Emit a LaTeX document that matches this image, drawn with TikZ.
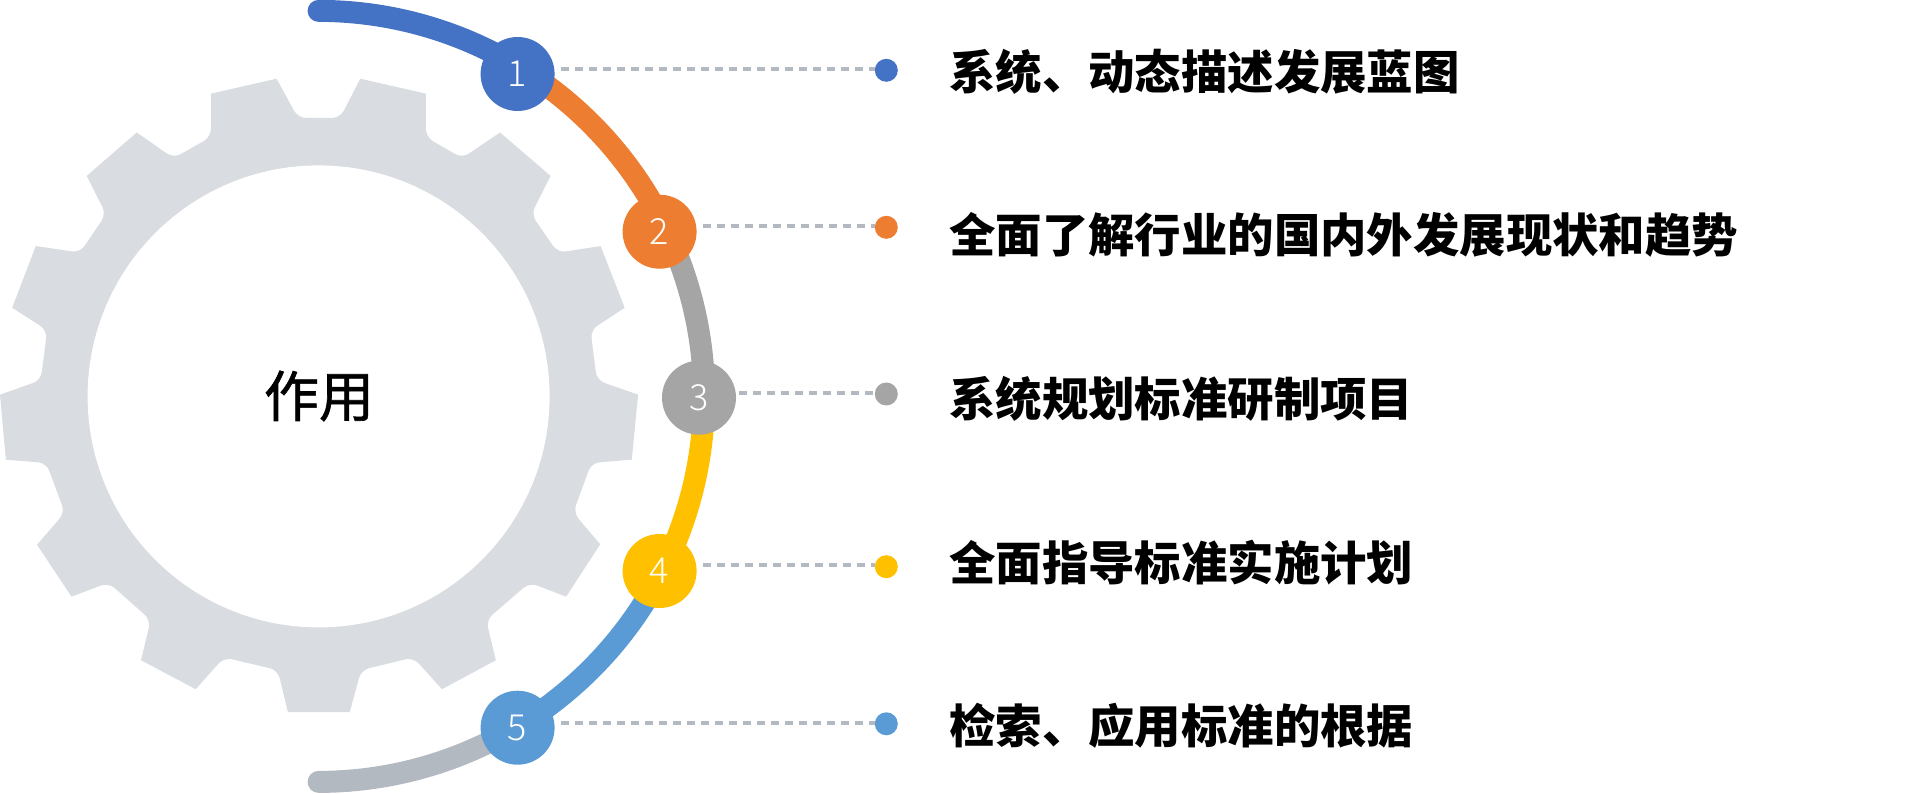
\documentclass[tikz,border=0pt]{standalone}
\usepackage{fontspec}
\setmainfont{Noto Sans CJK SC}
\newfontfamily\titlefont[FakeBold=1.2]{Noto Sans CJK SC}
\newfontfamily\numfont{Noto Sans CJK SC Light}
\usetikzlibrary{calc}
\definecolor{gearc}{HTML}{D9DCE1}
\definecolor{cblue}{HTML}{4472C4}
\definecolor{corange}{HTML}{ED7D31}
\definecolor{cgray}{HTML}{A5A5A5}
\definecolor{cyellow}{HTML}{FFC000}
\definecolor{clight}{HTML}{5B9BD5}
\definecolor{cslate}{HTML}{B2B9C1}
\tikzset{
  seg/.style={line width=22pt,line cap=round},
  segb/.style={line width=22pt},
  num/.style={circle,inner sep=0pt,minimum size=74pt,text=white,font=\numfont\fontsize{36}{36}\selectfont},
  dotn/.style={circle,inner sep=0pt,minimum size=23pt},
  lead/.style={draw=cslate,line width=4pt,dash pattern=on 7.5pt off 6.5pt},
  rowtext/.style={anchor=west,inner sep=0pt,font=\fontsize{46.4}{46.4}\selectfont\bfseries},
}
\begin{document}
\begin{tikzpicture}[x=1pt,y=1pt]
\useasboundingbox (0,0) rectangle (1919,793);
\begin{scope}[x=0.42092pt,y=-0.46747pt,shift={(0,-1568)}]
\fill[gearc]
 (934,56) -- (1012,72) [rounded corners=8pt] -- (1012,165) -- (1098,210) [sharp corners] -- (1188,155)
 -- (1308,248) [rounded corners=8pt] -- (1262,330) -- (1325,412) [sharp corners] -- (1427,398)
 -- (1484,530) [rounded corners=8pt] -- (1403,578) -- (1418,685) [sharp corners] -- (1516,716)
 -- (1501,855) [rounded corners=8pt] -- (1405,862) -- (1362,968) [sharp corners] -- (1426,1036)
 -- (1345,1148) [rounded corners=8pt] -- (1258,1118) -- (1155,1198) [sharp corners] -- (1178,1284)
 -- (1050,1346) [rounded corners=8pt] -- (982,1278) -- (858,1305) [sharp corners] -- (831,1395)
 -- (684,1395) [rounded corners=8pt] -- (660,1305) -- (532,1278) [sharp corners] -- (465,1346)
 -- (335,1284) [rounded corners=8pt] -- (358,1198) -- (258,1118) [sharp corners] -- (170,1148)
 -- (88,1037) [rounded corners=8pt] -- (154,968) -- (110,862) [sharp corners] -- (14,855)
 -- (0,716) [rounded corners=8pt] -- (97,685) -- (112,578) [sharp corners] -- (29,530)
 -- (85,398) [rounded corners=8pt] -- (190,412) -- (252,330) [sharp corners] -- (206,248)
 -- (325,155) [rounded corners=8pt] -- (412,210) -- (501,165) [sharp corners] -- (501,72)
 -- (657,40) [rounded corners=8pt] -- (708,124) -- (808,124) [sharp corners] -- (856,40) -- (934,56);
\end{scope}
\coordinate (c) at (318.6,396.6);
\fill[white] (c) circle[radius=231pt];
\node[inner sep=0pt,font=\titlefont\fontsize{55}{55}\selectfont] (title) at (319,397) {作用};
% arc points
\coordinate (a0) at ($(c)+(90:385.5)$);
\coordinate (a1) at ($(c)+(58.3:385.5)$);
\coordinate (a2) at ($(c)+(25.8:385.5)$);
\coordinate (a3) at ($(c)+(0:385.5)$);
\coordinate (a4) at ($(c)+(-25.8:385.5)$);
\coordinate (a5) at ($(c)+(-58.3:385.5)$);
\coordinate (a6) at ($(c)+(-90:385.5)$);
\draw[seg,cblue] (a0) arc[start angle=90,end angle=58.3,radius=385.5];
\draw[segb,corange] (a1) arc[start angle=58.3,end angle=25.8,radius=385.5];
\draw[segb,cgray] (a2) arc[start angle=25.8,end angle=0,radius=385.5];
\draw[segb,cyellow] (a3) arc[start angle=0,end angle=-25.8,radius=385.5];
\draw[segb,clight] (a4) arc[start angle=-25.8,end angle=-58.3,radius=385.5];
\draw[seg,cslate] (a5) arc[start angle=-58.3,end angle=-90,radius=385.5];
% dots
\node[dotn,fill=cblue] (d1) at (886.3,722.7) {};
\node[dotn,fill=corange] (d2) at (886.3,565.7) {};
\node[dotn,fill=cgray] (d3) at (886.3,399) {};
\node[dotn,fill=cyellow] (d4) at (886.3,226.3) {};
\node[dotn,fill=clight] (d5) at (886.3,69.2) {};
% numbered
\node[num,fill=cblue] (n1) at (517.6,719) {1};
\node[num,fill=corange] (n2) at (659.6,561.3) {2};
\node[num,fill=cgray] (n3) at (699,395.3) {3};
\node[num,fill=cyellow] (n4) at (659.6,222) {4};
\node[num,fill=clight] (n5) at (517.6,65.3) {5};
% leaders
\coordinate (l1) at (561,723.7);
\coordinate (l2) at (703,566.5);
\coordinate (l3) at (739,400.3);
\coordinate (l4) at (703,227.7);
\coordinate (l5) at (561,70.3);
\draw[lead] (l1) -- (l1 -| d1.west);
\draw[lead] (l2) -- (l2 -| d2.west);
\draw[lead] (l3) -- (l3 -| d3.west);
\draw[lead] (l4) -- (l4 -| d4.west);
\draw[lead] (l5) -- (l5 -| d5.west);
% text
\node[rowtext] (t1) at (949,721) {系统、动态描述发展蓝图};
\node[rowtext] (t2) at (949,558) {全面了解行业的国内外发展现状和趋势};
\node[rowtext] (t3) at (949,394) {系统规划标准研制项目};
\node[rowtext] (t4) at (949,230) {全面指导标准实施计划};
\node[rowtext] (t5) at (949,67) {检索、应用标准的根据};
\end{tikzpicture}
\end{document}
